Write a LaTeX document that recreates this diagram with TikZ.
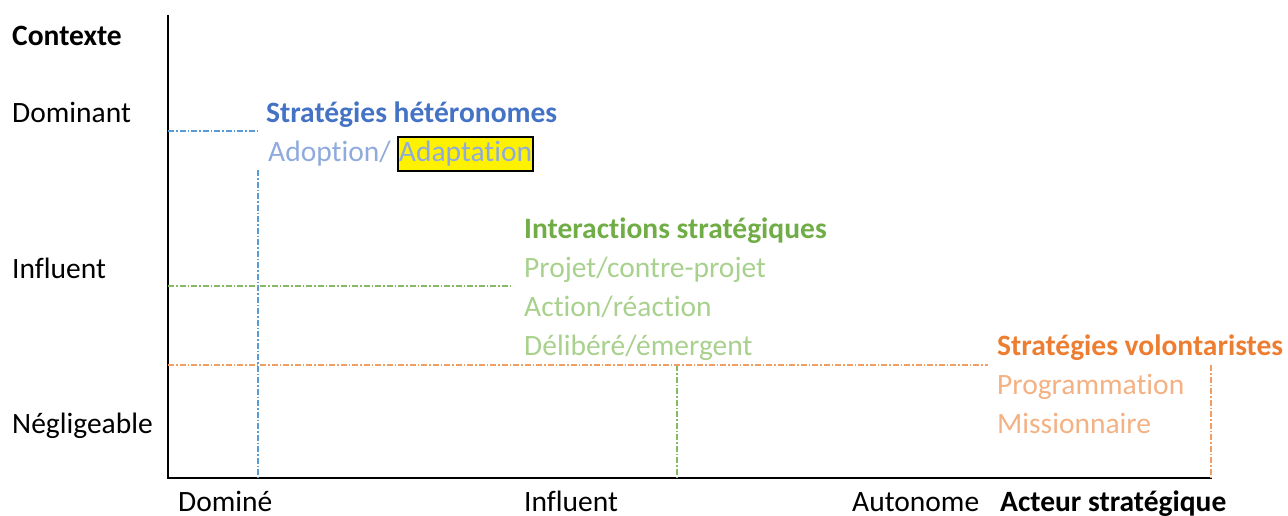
\documentclass[tikz,border=0pt]{standalone}
\usepackage{fontspec}
\setmainfont[Ligatures={NoCommon,NoContextual,NoRare}]{Carlito}
\definecolor{hblue}{HTML}{4472C4}
\definecolor{lblue}{HTML}{8FAADC}
\definecolor{lnblue}{HTML}{5B9BD5}
\definecolor{hgreen}{HTML}{70AD47}
\definecolor{lgreen}{HTML}{A9D18E}
\definecolor{hora}{HTML}{ED7D31}
\definecolor{lora}{HTML}{F4B183}
\begin{document}
\begin{tikzpicture}[x=1pt,y=-1pt,
  lbl/.style={anchor=base west,inner sep=0pt,font=\fontsize{29.5}{35}\selectfont},
  bl/.style={lbl,font=\fontsize{29.5}{35}\selectfont\bfseries},
  axis/.style={line width=2.5pt,black},
  guide/.style={line width=1.3pt,dash pattern=on 6pt off 2pt on 1.5pt off 2pt}]
\useasboundingbox (0,0) rectangle (1288,516);
% axes
\coordinate (o) at (168,478);
\coordinate (ytop) at (168,15);
\coordinate (xend) at (1212,478);
\draw[axis] (ytop) -- (o) -- (xend);
% guides
\coordinate (b1) at (168,131); \coordinate (b2) at (258,131);
\coordinate (b3) at (258,170); \coordinate (b4) at (258,478);
\draw[guide,lnblue] (b1) -- (b2);
\draw[guide,lnblue] (b3) -- (b4);
\coordinate (g1) at (168,286); \coordinate (g2) at (513,286);
\coordinate (g3) at (677,365); \coordinate (g4) at (677,478);
\draw[guide,hgreen!85] (g1) -- (g2);
\draw[guide,hgreen!85] (g3) -- (g4);
\coordinate (r1) at (168,365); \coordinate (r2) at (988,365);
\coordinate (r3) at (1211,365); \coordinate (r4) at (1211,478);
\draw[guide,hora!75] (r1) -- (r2);
\draw[guide,hora!75] (r3) -- (r4);
% y labels
\node[bl] (ctx) at (12,46) {Contexte};
\node[lbl] (dom) at (12,123) {Dominant};
\node[lbl] (inf) at (12,278) {Influent};
\node[lbl] (neg) at (12,433) {Négligeable};
% x labels
\node[lbl] (xdom) at (178,511) {Dominé};
\node[lbl] (xinf) at (524,511) {Influent};
\node[lbl] (xaut) at (852,511) {Autonome};
\node[bl] (acteur) at (1000,511) {Acteur stratégique};
% blue group
\node[bl,text=hblue] (het) at (266,123) {Stratégies hétéronomes};
\node[lbl,text=lblue] (adop) at (268,162) {Adoption/};
\node[anchor=base west,draw=black,line width=2pt,fill=yellow,text=lblue,
  inner xsep=1pt,inner ysep=1pt,text height=24pt,text depth=8pt,
  font=\fontsize{29.5}{35}\selectfont] (adapt) at ([xshift=6pt]adop.base east) {Adaptation};
% green group
\node[bl,text=hgreen] (inter) at (524,238) {Interactions stratégiques};
\node[lbl,text=lgreen] (proj) at (524,277) {Projet/contre-projet};
\node[lbl,text=lgreen] (act) at (524,316) {Action/réaction};
\node[lbl,text=lgreen] (deli) at (524,355) {Délibéré/émergent};
% orange group
\node[bl,text=hora] (vol) at (997,355) {Stratégies volontaristes};
\node[lbl,text=lora] (prog) at (997,394) {Programmation};
\node[lbl,text=lora] (miss) at (997,433) {Missionnaire};
\end{tikzpicture}
\end{document}
